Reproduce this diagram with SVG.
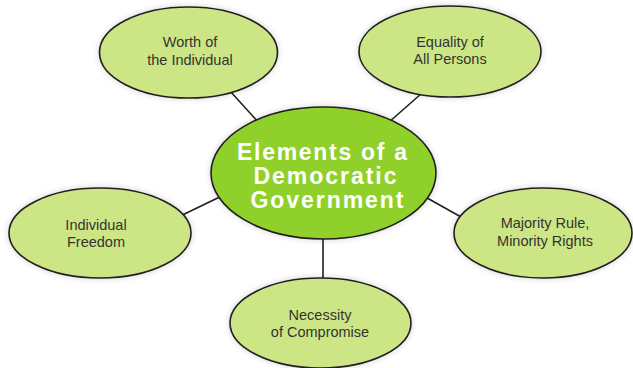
<svg xmlns="http://www.w3.org/2000/svg" width="633" height="368" viewBox="0 0 633 368">
<defs>
<filter id="sh" x="-20%" y="-20%" width="140%" height="140%">
<feGaussianBlur in="SourceAlpha" stdDeviation="3"/>
<feComponentTransfer><feFuncA type="linear" slope="0.18"/></feComponentTransfer>
<feMerge><feMergeNode/><feMergeNode in="SourceGraphic"/></feMerge>
</filter>
</defs>
<style>
.outer{fill:#cde685;stroke:#231f20;stroke-width:1.6;filter:url(#sh)}
.center{fill:#8fd12a;stroke:#231f20;stroke-width:1.6;filter:url(#sh)}
.lbl{font-family:"Liberation Sans",Arial,sans-serif;font-size:14.5px;fill:#333333;text-anchor:middle}
.ctr{font-family:"Liberation Sans",Arial,sans-serif;font-size:23px;font-weight:bold;fill:#ffffff;text-anchor:middle}
.conn{stroke:#231f20;stroke-width:1.6;fill:none}
</style>
<rect width="633" height="368" fill="#ffffff"/>
<g id="connectors">
<line class="conn" x1="220" y1="80" x2="270" y2="135"/>
<line class="conn" x1="430" y1="86" x2="380" y2="130"/>
<line class="conn" x1="170" y1="221" x2="230" y2="192"/>
<line class="conn" x1="323" y1="225" x2="323" y2="290"/>
<line class="conn" x1="420" y1="194" x2="470" y2="222"/>
</g>
<g id="worth">
<ellipse class="outer" cx="188.5" cy="52.5" rx="89" ry="45.5"/>
<text class="lbl" x="190" y="47">Worth of</text>
<text class="lbl" x="190" y="65">the Individual</text>
</g>
<g id="equality">
<ellipse class="outer" cx="450" cy="51.5" rx="91" ry="45.5"/>
<text class="lbl" x="450" y="47">Equality of</text>
<text class="lbl" x="450" y="64">All Persons</text>
</g>
<g id="freedom">
<ellipse class="outer" cx="100" cy="233" rx="91" ry="45"/>
<text class="lbl" x="96" y="230">Individual</text>
<text class="lbl" x="96" y="247">Freedom</text>
</g>
<g id="compromise">
<ellipse class="outer" cx="320.5" cy="323" rx="90.5" ry="45"/>
<text class="lbl" x="320" y="320">Necessity</text>
<text class="lbl" x="320" y="337">of Compromise</text>
</g>
<g id="majority">
<ellipse class="outer" cx="543" cy="233" rx="89" ry="45"/>
<text class="lbl" x="545" y="228">Majority Rule,</text>
<text class="lbl" x="545" y="246">Minority Rights</text>
</g>
<g id="center">
<ellipse class="center" cx="323.5" cy="173" rx="112.5" ry="66"/>
<text class="ctr" x="322" y="160" textLength="170" lengthAdjust="spacing">Elements of a</text>
<text class="ctr" x="325" y="184" textLength="143" lengthAdjust="spacing">Democratic</text>
<text class="ctr" x="327" y="208" textLength="153" lengthAdjust="spacing">Government</text>
</g>
</svg>
